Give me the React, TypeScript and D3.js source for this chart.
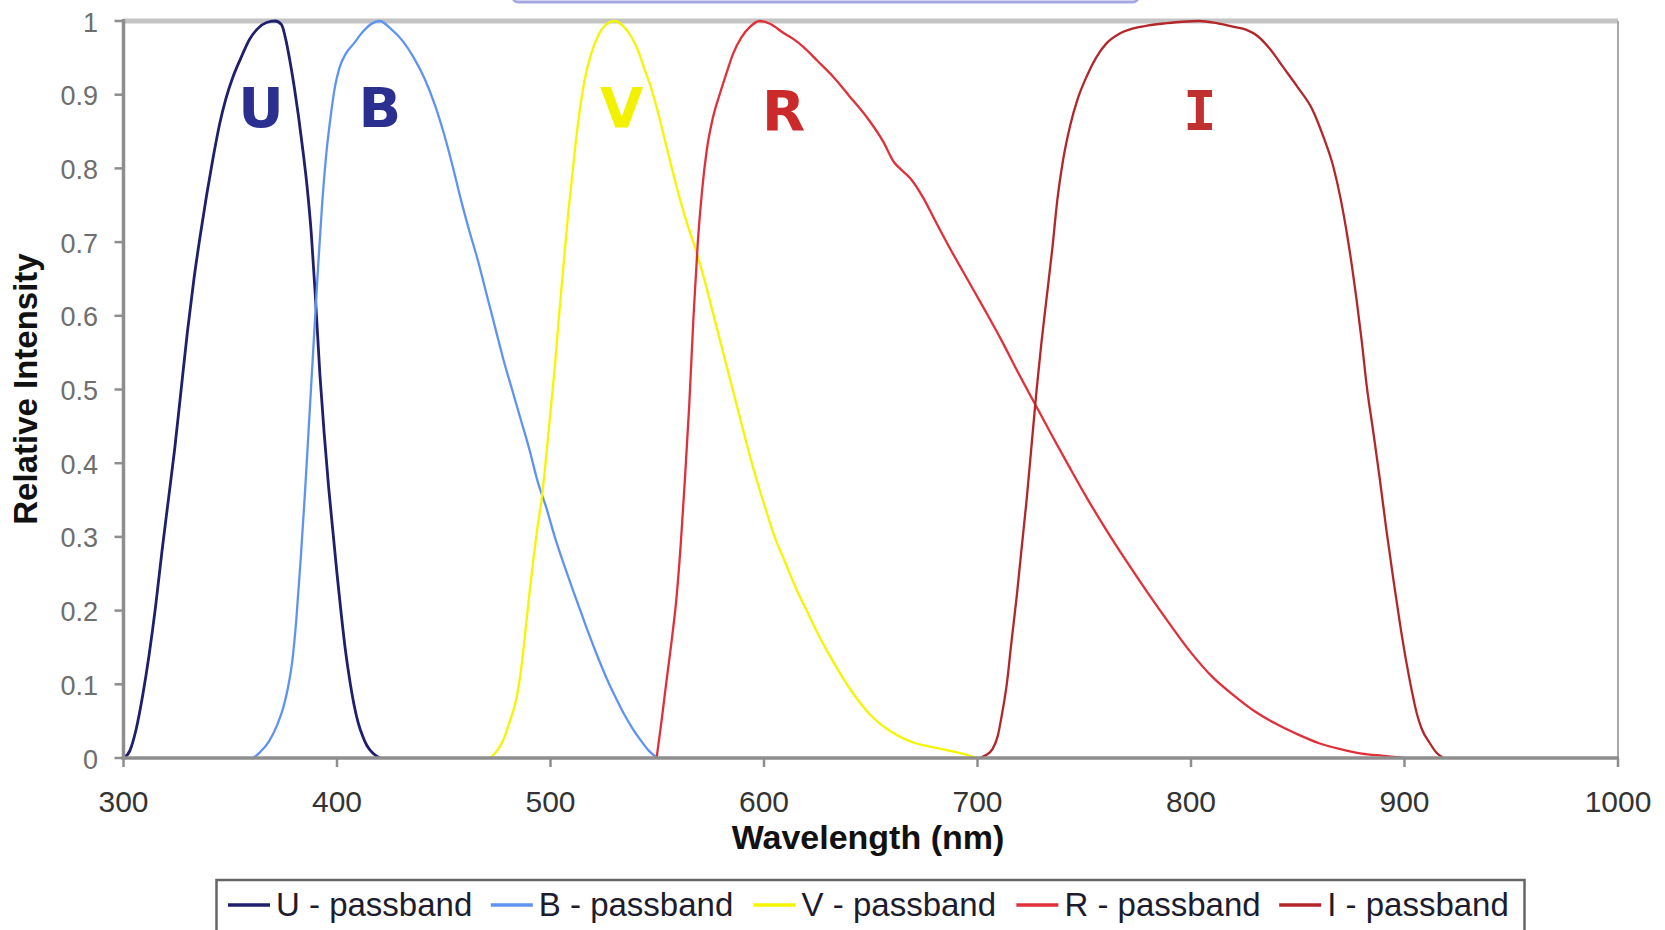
import * as d3 from 'd3';
import React from 'react';

// passband curves: wavelength (nm) and relative intensity
const uWave = [300, 303, 306, 309, 312, 315, 318, 321, 324, 327, 330, 333, 336, 339, 342, 345, 348, 351, 355, 359, 363, 367, 371, 374, 376, 378, 380, 382, 384, 386, 388, 390, 392, 394, 396, 398, 400, 402, 404, 406, 408, 410, 412, 414, 417, 420];
const uValue = [0, 0.01, 0.04, 0.085, 0.14, 0.205, 0.28, 0.35, 0.42, 0.5, 0.58, 0.65, 0.71, 0.765, 0.815, 0.86, 0.895, 0.922, 0.95, 0.975, 0.99, 0.998, 1, 0.995, 0.975, 0.945, 0.91, 0.87, 0.825, 0.775, 0.71, 0.62, 0.52, 0.44, 0.37, 0.31, 0.25, 0.195, 0.145, 0.105, 0.072, 0.047, 0.03, 0.017, 0.006, 0];

const bWave = [360.8, 364, 368, 372, 375, 377, 379, 381, 383, 385, 387, 389, 391, 393, 395, 397, 399, 401, 404, 408, 412, 416, 420, 425, 431, 436, 441, 446, 450, 454, 458, 462, 466, 470, 474, 478, 482, 486, 490, 494, 498, 502, 506, 510, 514, 518, 522, 526, 530, 534, 538, 542, 546, 550];
const bValue = [0, 0.008, 0.022, 0.045, 0.07, 0.095, 0.13, 0.19, 0.27, 0.36, 0.46, 0.56, 0.66, 0.75, 0.82, 0.87, 0.91, 0.935, 0.955, 0.97, 0.985, 0.996, 1, 0.99, 0.972, 0.95, 0.922, 0.885, 0.848, 0.805, 0.758, 0.715, 0.675, 0.63, 0.585, 0.54, 0.5, 0.46, 0.42, 0.375, 0.34, 0.3, 0.265, 0.232, 0.2, 0.168, 0.138, 0.11, 0.085, 0.062, 0.042, 0.025, 0.01, 0];

const vWave = [471.7, 475, 478, 481, 484, 486, 488, 490, 492, 494, 496, 498, 500, 502, 504, 506, 508, 510, 512, 514, 516, 519, 522, 526, 530, 534, 538, 541, 544, 547, 550, 553, 556, 560, 564, 568, 572, 576, 580, 584, 588, 592, 596, 600, 605, 610, 615, 620, 625, 630, 635, 640, 645, 650, 655, 660, 665, 670, 680, 690, 700];
const vValue = [0, 0.01, 0.025, 0.05, 0.08, 0.115, 0.165, 0.22, 0.27, 0.315, 0.355, 0.41, 0.47, 0.53, 0.6, 0.665, 0.73, 0.785, 0.84, 0.885, 0.92, 0.955, 0.978, 0.995, 1, 0.993, 0.978, 0.96, 0.935, 0.91, 0.88, 0.845, 0.81, 0.765, 0.725, 0.69, 0.65, 0.605, 0.56, 0.515, 0.47, 0.425, 0.383, 0.345, 0.3, 0.265, 0.23, 0.2, 0.17, 0.143, 0.118, 0.095, 0.075, 0.058, 0.045, 0.035, 0.027, 0.021, 0.014, 0.008, 0];

const rWave = [549.7, 552, 554.4, 557, 559.1, 561, 563, 565, 567, 569, 571, 573.2, 576, 579.4, 582.5, 585.6, 589.5, 593.4, 598, 603, 609, 614, 618.4, 625, 632.5, 640, 648, 655.9, 661, 664, 668.4, 674.6, 680, 687, 695, 703, 711, 719, 727, 735, 743, 751, 760, 770, 780, 790, 800, 810, 820, 830, 840, 850, 860, 870, 880, 890, 900];
const rValue = [0, 0.05, 0.106, 0.165, 0.22, 0.29, 0.38, 0.48, 0.6, 0.7, 0.77, 0.825, 0.868, 0.902, 0.93, 0.956, 0.978, 0.992, 1, 0.996, 0.984, 0.975, 0.965, 0.946, 0.924, 0.898, 0.87, 0.836, 0.808, 0.799, 0.787, 0.76, 0.73, 0.692, 0.651, 0.61, 0.568, 0.523, 0.48, 0.437, 0.395, 0.354, 0.311, 0.266, 0.223, 0.182, 0.143, 0.11, 0.085, 0.063, 0.046, 0.032, 0.02, 0.012, 0.006, 0.003, 0];

const iWave = [701.2, 704, 707, 709.5, 711.5, 713.7, 716, 718.4, 720.5, 723, 725.5, 727.7, 730, 732.4, 735, 737.5, 740, 743.3, 747, 751, 755.5, 760.5, 766, 773, 780, 788.6, 796, 804, 812, 820, 826, 831, 837, 843, 850, 857, 862, 866.7, 870, 873, 875.5, 877.6, 880, 882.3, 885.5, 888.5, 891.5, 894.8, 898, 901, 903.5, 905.7, 908, 911.9, 915, 918.2];
const iValue = [0, 0.004, 0.012, 0.03, 0.06, 0.1, 0.16, 0.22, 0.28, 0.35, 0.43, 0.5, 0.565, 0.625, 0.69, 0.76, 0.81, 0.857, 0.895, 0.924, 0.95, 0.97, 0.982, 0.99, 0.994, 0.997, 0.999, 1, 0.997, 0.992, 0.988, 0.98, 0.962, 0.938, 0.91, 0.879, 0.843, 0.802, 0.76, 0.712, 0.665, 0.621, 0.565, 0.505, 0.44, 0.377, 0.31, 0.242, 0.18, 0.128, 0.09, 0.061, 0.04, 0.02, 0.007, 0];

const seriesNames = ['U - passband', 'B - passband', 'V - passband', 'R - passband', 'I - passband'];
const bandLetters = ['U', 'B', 'V', 'R', 'I'];
const lineColors = ['#1f1f6e', '#5f93f2', '#f5f500', '#e0303a', '#b3262a'];
const letterColors = ['#2b2f8f', '#2b2f8f', '#f2f200', '#cc2a2a', '#c0302f'];

const waves = [uWave, bWave, vWave, rWave, iWave];
const values = [uValue, bValue, vValue, rValue, iValue];
// where the band letter sits (wavelength, value)
const letterWave = [364.4, 420.1, 533.3, 609.2, 804.2];
const letterValue = [0.856, 0.856, 0.856, 0.852, 0.852];

const width = 1665;
const height = 930;
const left = 123.5;
const right = 1618;
const top = 21;
const bottom = 758;

const font = '"Liberation Sans", Arial, sans-serif';

function App() {
  const x = d3.scaleLinear().domain([300, 1000]).range([left, right]);
  const y = d3.scaleLinear().domain([0, 1]).range([bottom, top]);

  const line = d3
    .line<[number, number]>()
    .x((d) => x(d[0]))
    .y((d) => y(d[1]))
    .curve(d3.curveMonotoneX);

  const xTicks = x.ticks(7);
  const yTicks = y.ticks(10);

  return (
    <svg
      width={width}
      height={height}
      style={{ position: 'absolute', left: 0, top: 0, background: '#fff' }}
    >
      {/* remains of the title box */}
      <rect x={513} y={-30} width={625} height={32} rx={5} fill="none" stroke="#a4a8e2" strokeWidth={3} />

      {/* frame */}
      <line x1={left} x2={right} y1={top} y2={top} stroke="#c4c4c4" strokeWidth={5} />
      <line x1={right} x2={right} y1={top} y2={bottom} stroke="#a8a8a8" strokeWidth={2} />

      {/* bands */}
      {waves.map((w, k) => (
        <path
          key={k}
          d={line(w.map((l, i) => [l, values[k][i]]))}
          fill="none"
          stroke={lineColors[k]}
          strokeWidth={k === 0 ? 2.8 : 2.3}
          strokeLinejoin="round"
        />
      ))}

      {/* axes */}
      <line x1={left} x2={left} y1={top - 2} y2={bottom + 2} stroke="#8e8e8e" strokeWidth={3.5} />
      <line x1={left - 2} x2={right + 1} y1={bottom} y2={bottom} stroke="#8e8e8e" strokeWidth={3.5} />
      {yTicks.map((t) => (
        <g key={t}>
          <line x1={left - 9} x2={left} y1={y(t)} y2={y(t)} stroke="#8e8e8e" strokeWidth={2.5} />
          <text x={98} y={y(t) + 10.5} textAnchor="end" fontFamily={font} fontSize={27} fill="#6e6e6e">
            {String(+t.toFixed(1))}
          </text>
        </g>
      ))}
      {xTicks.map((t) => (
        <g key={t}>
          <line x1={x(t)} x2={x(t)} y1={bottom} y2={bottom + 9} stroke="#8e8e8e" strokeWidth={2.5} />
          <text x={x(t)} y={812} textAnchor="middle" fontFamily={font} fontSize={30} fill="#333">
            {t}
          </text>
        </g>
      ))}

      <text x={868} y={849} textAnchor="middle" fontFamily={font} fontWeight="bold" fontSize={34} fill="#111">
        Wavelength (nm)
      </text>
      <text
        transform="translate(37,389) rotate(-90)"
        textAnchor="middle"
        fontFamily={font}
        fontWeight="bold"
        fontSize={33}
        fill="#111"
      >
        Relative Intensity
      </text>

      {/* band letters */}
      {bandLetters.map((b, k) => (
        <text
          key={b}
          x={x(letterWave[k])}
          y={y(letterValue[k])}
          textAnchor="middle"
          fontFamily={b === 'I' ? '"DejaVu Sans Mono", monospace' : 'Verdana, "DejaVu Sans", sans-serif'}
          fontWeight="bold"
          fontSize={56}
          fill={letterColors[k]}
        >
          {b}
        </text>
      ))}

      {/* legend */}
      <rect x={216.5} y={880} width={1308} height={70} fill="#fff" stroke="#666" strokeWidth={2.5} />
      {seriesNames.map((name, k) => {
        const lx = 228 + k * 262.8;
        return (
          <g key={name}>
            <line x1={lx} x2={lx + 42} y1={905} y2={905} stroke={lineColors[k]} strokeWidth={3.5} />
            <text x={lx + 48} y={916} fontFamily={font} fontSize={33} fill="#1c1c2e">
              {name}
            </text>
          </g>
        );
      })}
    </svg>
  );
}

export default App;
